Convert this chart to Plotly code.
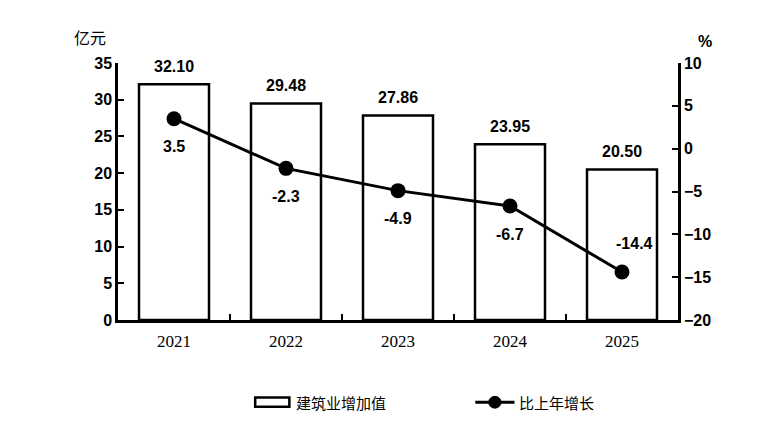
import plotly.graph_objects as go

years = ["2021", "2022", "2023", "2024", "2025"]
value_added = [32.10, 29.48, 27.86, 23.95, 20.50]
growth = [3.5, -2.3, -4.9, -6.7, -14.4]
growth_label_above = [False, False, False, False, True]

bar_name = "建筑业增加值"
line_name = "比上年增长"

BOLD = "Liberation Sans"
CJK = "Noto Sans CJK SC"
label_font = dict(family=BOLD, size=16, color="black", weight="bold")

fig = go.Figure()

fig.add_trace(go.Bar(
    x=years, y=value_added, name=bar_name,
    marker=dict(color="white", line=dict(color="black", width=2.5)),
    width=0.625,
    showlegend=False,
))

fig.add_trace(go.Scatter(
    x=years, y=growth, name=line_name, yaxis="y2",
    mode="lines+markers",
    line=dict(color="black", width=3),
    marker=dict(color="black", size=15),
    cliponaxis=False,
    showlegend=False,
))

# value labels (category axis: position by index)
for i, v in enumerate(value_added):
    fig.add_annotation(x=i, y=v, xref="x", yref="y", text=f"{v:.2f}",
                       showarrow=False, yanchor="middle", yshift=18, font=label_font)
for i, (v, above) in enumerate(zip(growth, growth_label_above)):
    fig.add_annotation(x=i, y=v, xref="x", yref="y2", text=f"{v:.1f}",
                       showarrow=False, yanchor="middle",
                       xshift=12 if above else 0,
                       yshift=29 if above else -28, font=label_font)

axis_font = dict(family=BOLD, size=16, color="black", weight="bold")

fig.update_layout(
    width=766, height=416,
    margin=dict(l=110, r=96, t=55, b=104),
    plot_bgcolor="white", paper_bgcolor="white",
    xaxis=dict(
        type="category", range=[-0.5, 4.5],
        showline=True, linecolor="black", linewidth=2.5,
        ticks="inside", tickson="boundaries", ticklen=6, tickwidth=2, tickcolor="black",
        tickfont=dict(family="Liberation Serif", size=17, color="black"),
        ticklabelstandoff=4,
        showgrid=False, zeroline=False,
    ),
    yaxis=dict(
        range=[0, 35], dtick=5, showline=True, linecolor="black", linewidth=2.5,
        ticks="inside", ticklen=6, tickwidth=2, tickcolor="black",
        tickfont=axis_font, showgrid=False, zeroline=False,
    ),
    yaxis2=dict(
        range=[-20, 10], dtick=5, overlaying="y", side="right",
        showline=True, linecolor="black", linewidth=2.5,
        ticks="inside", ticklen=6, tickwidth=2, tickcolor="black",
        tickfont=axis_font, showgrid=False, zeroline=False,
    ),
    showlegend=False,
)

# axis units
fig.add_annotation(x=-0.082, y=1.10, xref="paper", yref="paper", text="亿元",
                   showarrow=False, xanchor="left", yanchor="middle",
                   font=dict(family=CJK, size=16, color="black"))
fig.add_annotation(x=1.048, y=1.085, xref="paper", yref="paper", text="%",
                   showarrow=False, xanchor="center", yanchor="middle",
                   font=dict(family=BOLD, size=16, color="black", weight="bold"))

# legend drawn by hand
fig.add_shape(type="rect", xref="paper", yref="paper",
              x0=0.245, x1=0.306, y0=-0.338, y1=-0.302,
              line=dict(color="black", width=2.5), fillcolor="white")
fig.add_annotation(x=0.314, y=-0.32, xref="paper", yref="paper", text=bar_name,
                   showarrow=False, xanchor="left", yanchor="middle",
                   font=dict(family=CJK, size=15, color="black"))
fig.add_shape(type="line", xref="paper", yref="paper",
              x0=0.638, x1=0.708, y0=-0.32, y1=-0.32,
              line=dict(color="black", width=3))
fig.add_shape(type="circle", xref="paper", yref="paper",
              x0=0.662, x1=0.684, y0=-0.343, y1=-0.297,
              line=dict(color="black", width=1), fillcolor="black")
fig.add_annotation(x=0.713, y=-0.32, xref="paper", yref="paper", text=line_name,
                   showarrow=False, xanchor="left", yanchor="middle",
                   font=dict(family=CJK, size=15, color="black"))

fig.write_html("out.html")
